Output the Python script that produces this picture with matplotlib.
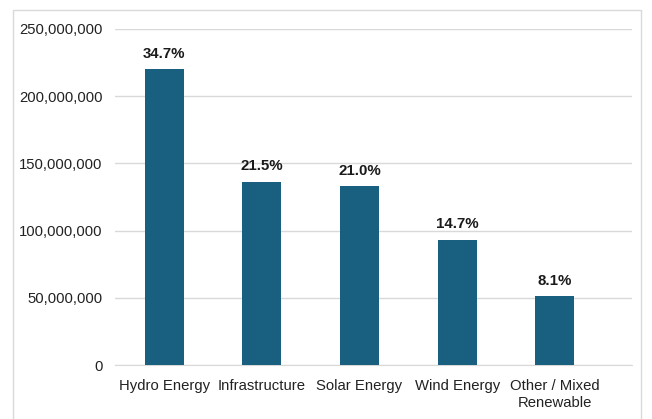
import matplotlib.pyplot as plt
import matplotlib.patches as patches
from matplotlib.ticker import FuncFormatter

categories = ['Hydro Energy', 'Infrastructure', 'Solar Energy', 'Wind Energy', 'Other / Mixed\nRenewable']
values = [220000000, 136300000, 133100000, 93200000, 51400000]
shares = ['34.7%', '21.5%', '21.0%', '14.7%', '8.1%']

plt.rcParams['font.family'] = ['Liberation Sans', 'DejaVu Sans']

fig = plt.figure(figsize=(6.52, 4.19), dpi=100)
# light frame around the chart area
fig.patches.append(patches.Rectangle((13 / 652, -0.05), (641 - 13) / 652, 1.05 - 10 / 419,
                                     transform=fig.transFigure, fill=False,
                                     edgecolor='#d9d9d9', linewidth=1))

ax = fig.add_axes([115 / 652, 1 - 365 / 419, (632 - 115) / 652, (365 - 29) / 419])
x = range(len(categories))
bars = ax.bar(x, values, width=0.4, color='#195f80', zorder=3)

for b, s in zip(bars, shares):
    ax.annotate(s, (b.get_x() + b.get_width() / 2, b.get_height()),
                xytext=(0, 6), textcoords='offset points', ha='center', va='bottom',
                fontsize=10.8, fontweight='bold', color='#1a1a1a')

ax.set_ylim(0, 250000000)
ax.set_xlim(-0.504, 4.79)
ax.set_yticks(range(0, 250000001, 50000000))
ax.yaxis.set_major_formatter(FuncFormatter(lambda v, p: f'{int(v):,}'))
ax.set_xticks(list(x))
ax.set_xticklabels(categories, linespacing=1.3)
ax.tick_params(axis='both', length=0, labelsize=10.7, colors='#222222')
ax.tick_params(axis='y', pad=9)
ax.tick_params(axis='x', pad=10)
ax.grid(axis='y', color='#d9d9d9', linewidth=1, zorder=0)
for side in ['top', 'right', 'left']:
    ax.spines[side].set_visible(False)
ax.spines['bottom'].set_color('#d9d9d9')

fig.savefig('out.png', dpi=100)
